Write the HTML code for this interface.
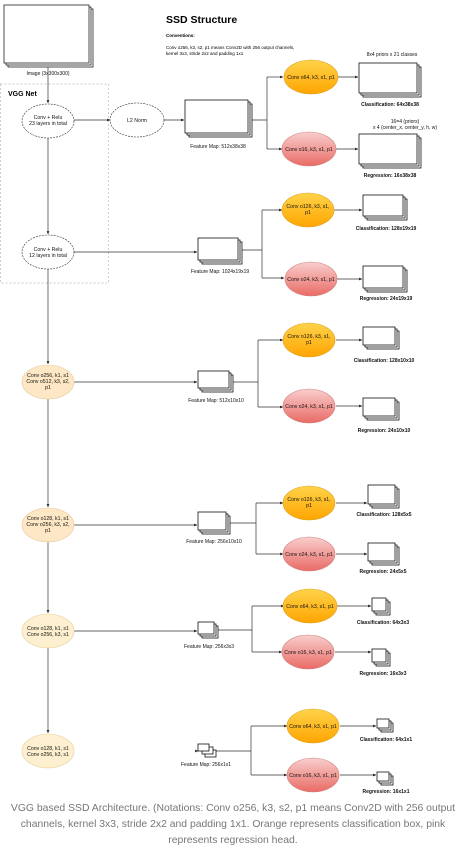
<!DOCTYPE html>
<html><head><meta charset="utf-8"><style>
html,body{margin:0;padding:0;background:#fff;width:463px;height:848px;overflow:hidden}
svg{display:block}
text{font-family:"Liberation Sans",sans-serif}
.l{font-size:5px;text-anchor:middle;fill:#111}
.e{font-size:5.2px;text-anchor:middle;fill:#111}
.cap{font-size:10.4px;text-anchor:middle;fill:#777}
</style></head><body>
<svg width="463" height="848" viewBox="0 0 463 848" xmlns="http://www.w3.org/2000/svg">
<defs>
<linearGradient id="o" x1="0" y1="0" x2="0" y2="1"><stop offset="0" stop-color="#ffd34a"/><stop offset="1" stop-color="#ffa500"/></linearGradient>
<linearGradient id="p" x1="0" y1="0" x2="0" y2="1"><stop offset="0" stop-color="#f8cecc"/><stop offset="1" stop-color="#ea6b66"/></linearGradient>
<marker id="a" markerWidth="5" markerHeight="5" refX="4" refY="2.5" orient="auto"><path d="M0,0.5 L4,2.5 L0,4.5z" fill="#111"/></marker>
</defs>
<g stroke="#222" stroke-width="0.8" fill="#fff">
<rect x="8" y="9" width="85" height="58"/><rect x="6" y="7" width="85" height="58"/><rect x="4" y="5" width="85" height="58"/>
</g>
<text class="l" x="48" y="75">Image (3x300x300)</text>
<text x="166" y="23" font-size="10.5" font-weight="bold">SSD Structure</text>
<text x="166" y="37" font-size="4.5" font-weight="bold">Conventions:</text>
<text x="166" y="49" font-size="4.5">Conv o256, k3, s2, p1 means Conv2D with 256 output channels,</text>
<text x="166" y="55" font-size="4.5">kernel 3x3, stride 2x2 and padding 1x1</text>
<rect x="0.5" y="84" width="108" height="199" fill="none" stroke="#bbb" stroke-width="0.7" stroke-dasharray="2,2"/>
<text x="8" y="96" font-size="7" font-weight="bold">VGG Net</text>

<g stroke="#333" stroke-width="0.7" fill="none">
<line x1="48" y1="67" x2="48" y2="103" marker-end="url(#a)"/>
<line x1="48" y1="138" x2="48" y2="234" marker-end="url(#a)"/>
<line x1="48" y1="269" x2="48" y2="364" marker-end="url(#a)"/>
<line x1="48" y1="399" x2="48" y2="507" marker-end="url(#a)"/>
<line x1="48" y1="542" x2="48" y2="613" marker-end="url(#a)"/>
<line x1="48" y1="648" x2="48" y2="733" marker-end="url(#a)"/>
<line x1="74" y1="120" x2="110" y2="120" marker-end="url(#a)"/>
<line x1="164" y1="120" x2="184" y2="120" marker-end="url(#a)"/>
<line x1="74" y1="252" x2="197" y2="252" marker-end="url(#a)"/>
<line x1="74" y1="382" x2="197" y2="382" marker-end="url(#a)"/>
<line x1="74" y1="525" x2="197" y2="525" marker-end="url(#a)"/>
<line x1="74" y1="631" x2="197" y2="631" marker-end="url(#a)"/>
<line x1="196" y1="751" x2="198" y2="751" marker-end="url(#a)"/>
<path d="M248,120 H267 M267,77 V149" />
<path d="M267,77 H283" marker-end="url(#a)"/><path d="M267,149 H282" marker-end="url(#a)"/>
<path d="M338,77 H358" marker-end="url(#a)"/><path d="M336,149 H358" marker-end="url(#a)"/>
<path d="M238,250 H262 M262,210 V278"/>
<path d="M262,210 H282" marker-end="url(#a)"/><path d="M262,278 H284" marker-end="url(#a)"/>
<path d="M334,210 H362" marker-end="url(#a)"/><path d="M337,279 H362" marker-end="url(#a)"/>
<path d="M229,382 H258 M258,340 V407"/>
<path d="M258,340 H283" marker-end="url(#a)"/><path d="M258,407 H283" marker-end="url(#a)"/>
<path d="M336,340 H362" marker-end="url(#a)"/><path d="M336,406 H362" marker-end="url(#a)"/>
<path d="M228,523 H256 M256,503 V554"/>
<path d="M256,503 H283" marker-end="url(#a)"/><path d="M256,554 H283" marker-end="url(#a)"/>
<path d="M336,503 H367" marker-end="url(#a)"/><path d="M336,554 H367" marker-end="url(#a)"/>
<path d="M216,630 H252 M252,606 V652"/>
<path d="M252,606 H284" marker-end="url(#a)"/><path d="M252,652 H282" marker-end="url(#a)"/>
<path d="M337,606 H371" marker-end="url(#a)"/><path d="M335,652 H371" marker-end="url(#a)"/>
<path d="M210,751 H251 M251,726 V775"/>
<path d="M251,726 H287" marker-end="url(#a)"/><path d="M251,775 H287" marker-end="url(#a)"/>
<path d="M340,726 H376" marker-end="url(#a)"/><path d="M340,775 H376" marker-end="url(#a)"/>
</g>

<g stroke-width="0.6">
<ellipse cx="48" cy="121" rx="26" ry="17" fill="#fff" stroke="#333" stroke-dasharray="2,1"/>
<ellipse cx="137" cy="120" rx="27" ry="17" fill="#fff" stroke="#333" stroke-dasharray="2,1"/>
<ellipse cx="48" cy="252" rx="26" ry="17" fill="#fff" stroke="#333" stroke-dasharray="2,1"/>
<ellipse cx="48" cy="382" rx="26" ry="17" fill="#fde7c4" stroke="#e6c89a"/>
<ellipse cx="48" cy="525" rx="26" ry="17" fill="#fde7c4" stroke="#e6c89a"/>
<ellipse cx="48" cy="631" rx="26" ry="17" fill="#fdefcf" stroke="#e6d09a"/>
<ellipse cx="48" cy="751" rx="26" ry="17" fill="#fdefcf" stroke="#e6d09a"/>
<ellipse cx="311" cy="77" rx="27" ry="17" fill="url(#o)" stroke="#e0a020"/>
<ellipse cx="309" cy="149" rx="27" ry="17" fill="url(#p)" stroke="#d0807c"/>
<ellipse cx="308" cy="210" rx="26" ry="17" fill="url(#o)" stroke="#e0a020"/>
<ellipse cx="311" cy="279" rx="26" ry="17" fill="url(#p)" stroke="#d0807c"/>
<ellipse cx="309" cy="340" rx="26" ry="17" fill="url(#o)" stroke="#e0a020"/>
<ellipse cx="309" cy="406" rx="26" ry="17" fill="url(#p)" stroke="#d0807c"/>
<ellipse cx="309" cy="503" rx="26" ry="17" fill="url(#o)" stroke="#e0a020"/>
<ellipse cx="309" cy="554" rx="26" ry="17" fill="url(#p)" stroke="#d0807c"/>
<ellipse cx="310" cy="606" rx="27" ry="17" fill="url(#o)" stroke="#e0a020"/>
<ellipse cx="308" cy="652" rx="26" ry="17" fill="url(#p)" stroke="#d0807c"/>
<ellipse cx="313" cy="726" rx="26" ry="17" fill="url(#o)" stroke="#e0a020"/>
<ellipse cx="313" cy="775" rx="26" ry="17" fill="url(#p)" stroke="#d0807c"/>
</g>
<text class="e" x="48" y="119">Conv + Relu</text><text class="e" x="48" y="125">23 layers in total</text>
<text class="e" x="137" y="122">L2 Norm</text>
<text class="e" x="48" y="251">Conv + Relu</text><text class="e" x="48" y="257">12 layers in total</text>
<text class="e" x="48" y="377">Conv o256, k1, s1</text><text class="e" x="48" y="383">Conv o512, k3, s2,</text><text class="e" x="48" y="389">p1</text>
<text class="e" x="48" y="520">Conv o128, k1, s1</text><text class="e" x="48" y="526">Conv o256, k3, s2,</text><text class="e" x="48" y="532">p1</text>
<text class="e" x="48" y="630">Conv o128, k1, s1</text><text class="e" x="48" y="636">Conv o256, k3, s1</text>
<text class="e" x="48" y="750">Conv o128, k1, s1</text><text class="e" x="48" y="756">Conv o256, k3, s1</text>
<text class="e" x="311" y="79">Conv o64, k3, s1, p1</text>
<text class="e" x="309" y="151">Conv o16, k3, s1, p1</text>
<text class="e" x="308" y="208">Conv o126, k3, s1,</text><text class="e" x="308" y="214">p1</text>
<text class="e" x="311" y="281">Conv o24, k3, s1, p1</text>
<text class="e" x="309" y="338">Conv o126, k3, s1,</text><text class="e" x="309" y="344">p1</text>
<text class="e" x="309" y="408">Conv o24, k3, s1, p1</text>
<text class="e" x="309" y="501">Conv o126, k3, s1,</text><text class="e" x="309" y="507">p1</text>
<text class="e" x="309" y="556">Conv o24, k3, s1, p1</text>
<text class="e" x="310" y="608">Conv o64, k3, s1, p1</text>
<text class="e" x="308" y="654">Conv o16, k3, s1, p1</text>
<text class="e" x="313" y="728">Conv o64, k3, s1, p1</text>
<text class="e" x="313" y="777">Conv o16, k3, s1, p1</text>

<g stroke="#111" stroke-width="0.8" fill="#fff">
<rect x="189" y="104" width="63" height="33"/><rect x="187" y="102" width="63" height="33"/><rect x="185" y="100" width="63" height="33"/>
<rect x="363" y="67" width="58" height="30"/><rect x="361" y="65" width="58" height="30"/><rect x="359" y="63" width="58" height="30"/>
<rect x="363" y="138" width="58" height="30"/><rect x="361" y="136" width="58" height="30"/><rect x="359" y="134" width="58" height="30"/>
<rect x="202" y="242" width="40" height="22"/><rect x="200" y="240" width="40" height="22"/><rect x="198" y="238" width="40" height="22"/>
<rect x="367" y="199" width="40" height="21"/><rect x="365" y="197" width="40" height="21"/><rect x="363" y="195" width="40" height="21"/>
<rect x="367" y="270" width="40" height="22"/><rect x="365" y="268" width="40" height="22"/><rect x="363" y="266" width="40" height="22"/>
<rect x="202" y="375" width="31" height="17"/><rect x="200" y="373" width="31" height="17"/><rect x="198" y="371" width="31" height="17"/>
<rect x="367" y="331" width="32" height="18"/><rect x="365" y="329" width="32" height="18"/><rect x="363" y="327" width="32" height="18"/>
<rect x="367" y="402" width="32" height="18"/><rect x="365" y="400" width="32" height="18"/><rect x="363" y="398" width="32" height="18"/>
<rect x="202" y="516" width="28" height="18"/><rect x="200" y="514" width="28" height="18"/><rect x="198" y="512" width="28" height="18"/>
<rect x="372" y="489" width="27" height="19"/><rect x="370" y="487" width="27" height="19"/><rect x="368" y="485" width="27" height="19"/>
<rect x="372" y="547" width="27" height="18"/><rect x="370" y="545" width="27" height="18"/><rect x="368" y="543" width="27" height="18"/>
<rect x="202" y="626" width="16" height="12"/><rect x="200" y="624" width="16" height="12"/><rect x="198" y="622" width="16" height="12"/>
<rect x="376" y="602" width="14" height="13"/><rect x="374" y="600" width="14" height="13"/><rect x="372" y="598" width="14" height="13"/>
<rect x="376" y="653" width="14" height="13"/><rect x="374" y="651" width="14" height="13"/><rect x="372" y="649" width="14" height="13"/>
<rect x="205" y="750" width="11" height="7"/><rect x="202" y="747" width="11" height="7"/><rect x="198" y="744" width="11" height="7"/>
<rect x="381" y="723" width="12" height="9"/><rect x="379" y="721" width="12" height="9"/><rect x="377" y="719" width="12" height="9"/>
<rect x="381" y="776" width="12" height="9"/><rect x="379" y="774" width="12" height="9"/><rect x="377" y="772" width="12" height="9"/>
</g>
<text class="l" x="218" y="148">Feature Map: 512x38x38</text>
<text class="l" x="392" y="56">8x4 priors x 21 classes</text>
<text class="l" x="390" y="106" font-weight="bold">Classification: 64x38x38</text>
<text class="l" x="405" y="123">16=4 (priors)</text>
<text class="l" x="405" y="129">x 4 (center_x, center_y, h, w)</text>
<text class="l" x="390" y="177" font-weight="bold">Regression: 16x38x38</text>
<text class="l" x="220" y="273">Feature Map: 1024x19x19</text>
<text class="l" x="386" y="230" font-weight="bold">Classification: 128x19x19</text>
<text class="l" x="386" y="300" font-weight="bold">Regression: 24x19x19</text>
<text class="l" x="216" y="402">Feature Map: 512x10x10</text>
<text class="l" x="384" y="362" font-weight="bold">Classification: 128x10x10</text>
<text class="l" x="384" y="432" font-weight="bold">Regression: 24x10x10</text>
<text class="l" x="214" y="543">Feature Map: 256x10x10</text>
<text class="l" x="384" y="516" font-weight="bold">Classification: 128x5x5</text>
<text class="l" x="383" y="573" font-weight="bold">Regression: 24x5x5</text>
<text class="l" x="209" y="648">Feature Map: 256x3x3</text>
<text class="l" x="383" y="624" font-weight="bold">Classification: 64x3x3</text>
<text class="l" x="383" y="675" font-weight="bold">Regression: 16x3x3</text>
<text class="l" x="206" y="766">Feature Map: 256x1x1</text>
<text class="l" x="386" y="741" font-weight="bold">Classification: 64x1x1</text>
<text class="l" x="386" y="793" font-weight="bold">Regression: 16x1x1</text>

<text class="cap" x="233" y="811">VGG based SSD Architecture. (Notations: Conv o256, k3, s2, p1 means Conv2D with 256 output</text>
<text class="cap" x="233" y="827">channels, kernel 3x3, stride 2x2 and padding 1x1. Orange represents classification box, pink</text>
<text class="cap" x="233" y="843">represents regression head.</text>
</svg>
</body></html>
